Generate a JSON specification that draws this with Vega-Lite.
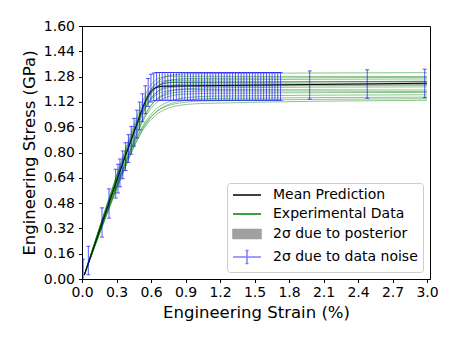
{
  "$schema": "https://vega.github.io/schema/vega-lite/v6.json",
  "width": 348,
  "height": 253,
  "autosize": {"type": "none"},
  "padding": {"left": 82, "top": 26, "right": 27, "bottom": 64},
  "background": "white",
  "config": {
    "font": "DejaVu Sans",
    "view": {"stroke": "black", "strokeWidth": 1},
    "axis": {
      "domainColor": "black", "tickColor": "black", "labelColor": "black", "titleColor": "black",
      "grid": false, "labelFontSize": 14, "titleFontSize": 16.5, "titleFontWeight": "normal",
      "tickSize": 3.5, "labelFont": "DejaVu Sans", "titleFont": "DejaVu Sans", "domainWidth": 1, "tickWidth": 1,
      "labelOverlap": false
    }
  },
  "datasets": {
    "curves": [
      {"c":"C1","x":0.02,"y":0.025},{"c":"C1","x":0.494,"y":1.029},{"c":"C1","x":0.555,"y":1.135},{"c":"C1","x":0.615,"y":1.213},{"c":"C1","x":0.676,"y":1.258},{"c":"C1","x":0.736,"y":1.281},{"c":"C1","x":0.797,"y":1.291},{"c":"C1","x":0.918,"y":1.298},{"c":"C1","x":3.0,"y":1.305},
      {"c":"C2","x":0.02,"y":0.025},{"c":"C2","x":0.478,"y":1.025},{"c":"C2","x":0.537,"y":1.14},{"c":"C2","x":0.595,"y":1.223},{"c":"C2","x":0.653,"y":1.264},{"c":"C2","x":0.712,"y":1.278},{"c":"C2","x":0.77,"y":1.282},{"c":"C2","x":3.0,"y":1.28},
      {"c":"C3","x":0.02,"y":0.025},{"c":"C3","x":0.494,"y":1.006},{"c":"C3","x":0.555,"y":1.109},{"c":"C3","x":0.615,"y":1.185},{"c":"C3","x":0.676,"y":1.229},{"c":"C3","x":0.736,"y":1.251},{"c":"C3","x":0.797,"y":1.261},{"c":"C3","x":0.918,"y":1.268},{"c":"C3","x":3.0,"y":1.275},
      {"c":"C4","x":0.02,"y":0.025},{"c":"C4","x":0.48,"y":1.005},{"c":"C4","x":0.538,"y":1.117},{"c":"C4","x":0.597,"y":1.199},{"c":"C4","x":0.655,"y":1.239},{"c":"C4","x":0.714,"y":1.253},{"c":"C4","x":0.773,"y":1.257},{"c":"C4","x":3.0,"y":1.265},
      {"c":"C6","x":0.02,"y":0.025},{"c":"C6","x":0.492,"y":0.978},{"c":"C6","x":0.552,"y":1.079},{"c":"C6","x":0.613,"y":1.152},{"c":"C6","x":0.673,"y":1.195},{"c":"C6","x":0.733,"y":1.217},{"c":"C6","x":0.793,"y":1.226},{"c":"C6","x":0.914,"y":1.233},{"c":"C6","x":3.0,"y":1.23},
      {"c":"C7","x":0.02,"y":0.025},{"c":"C7","x":0.475,"y":0.966},{"c":"C7","x":0.533,"y":1.066},{"c":"C7","x":0.591,"y":1.138},{"c":"C7","x":0.65,"y":1.181},{"c":"C7","x":0.708,"y":1.202},{"c":"C7","x":0.766,"y":1.211},{"c":"C7","x":0.882,"y":1.218},{"c":"C7","x":3.0,"y":1.225},
      {"c":"C8","x":0.02,"y":0.025},{"c":"C8","x":0.434,"y":0.841},{"c":"C8","x":0.494,"y":0.949},{"c":"C8","x":0.555,"y":1.041},{"c":"C8","x":0.615,"y":1.11},{"c":"C8","x":0.676,"y":1.153},{"c":"C8","x":0.736,"y":1.179},{"c":"C8","x":0.797,"y":1.193},{"c":"C8","x":0.918,"y":1.204},{"c":"C8","x":1.22,"y":1.21},{"c":"C8","x":3.0,"y":1.215},
      {"c":"C9","x":0.02,"y":0.025},{"c":"C9","x":0.468,"y":0.95},{"c":"C9","x":0.525,"y":1.048},{"c":"C9","x":0.582,"y":1.12},{"c":"C9","x":0.639,"y":1.161},{"c":"C9","x":0.696,"y":1.182},{"c":"C9","x":0.753,"y":1.192},{"c":"C9","x":0.868,"y":1.198},{"c":"C9","x":3.0,"y":1.195},
      {"c":"C10","x":0.02,"y":0.025},{"c":"C10","x":0.417,"y":0.827},{"c":"C10","x":0.475,"y":0.934},{"c":"C10","x":0.533,"y":1.024},{"c":"C10","x":0.591,"y":1.091},{"c":"C10","x":0.649,"y":1.134},{"c":"C10","x":0.707,"y":1.159},{"c":"C10","x":0.765,"y":1.173},{"c":"C10","x":0.881,"y":1.184},{"c":"C10","x":1.171,"y":1.19},{"c":"C10","x":3.0,"y":1.185},
      {"c":"C11","x":0.02,"y":0.025},{"c":"C11","x":0.421,"y":0.817},{"c":"C11","x":0.48,"y":0.922},{"c":"C11","x":0.539,"y":1.011},{"c":"C11","x":0.598,"y":1.077},{"c":"C11","x":0.656,"y":1.12},{"c":"C11","x":0.715,"y":1.144},{"c":"C11","x":0.774,"y":1.158},{"c":"C11","x":0.891,"y":1.169},{"c":"C11","x":1.185,"y":1.175},{"c":"C11","x":3.0,"y":1.18},
      {"c":"C12","x":0.02,"y":0.025},{"c":"C12","x":0.358,"y":0.691},{"c":"C12","x":0.416,"y":0.797},{"c":"C12","x":0.474,"y":0.893},{"c":"C12","x":0.532,"y":0.972},{"c":"C12","x":0.59,"y":1.033},{"c":"C12","x":0.648,"y":1.077},{"c":"C12","x":0.706,"y":1.105},{"c":"C12","x":0.764,"y":1.124},{"c":"C12","x":0.88,"y":1.144},{"c":"C12","x":0.996,"y":1.152},{"c":"C12","x":1.17,"y":1.157},{"c":"C12","x":3.0,"y":1.165},
      {"c":"C13","x":0.02,"y":0.025},{"c":"C13","x":0.362,"y":0.682},{"c":"C13","x":0.421,"y":0.787},{"c":"C13","x":0.48,"y":0.881},{"c":"C13","x":0.538,"y":0.96},{"c":"C13","x":0.597,"y":1.02},{"c":"C13","x":0.656,"y":1.063},{"c":"C13","x":0.714,"y":1.091},{"c":"C13","x":0.773,"y":1.11},{"c":"C13","x":0.891,"y":1.129},{"c":"C13","x":1.008,"y":1.138},{"c":"C13","x":1.184,"y":1.142},{"c":"C13","x":3.0,"y":1.15},
      {"c":"C14","x":0.02,"y":0.025},{"c":"C14","x":0.349,"y":0.673},{"c":"C14","x":0.406,"y":0.777},{"c":"C14","x":0.462,"y":0.87},{"c":"C14","x":0.519,"y":0.947},{"c":"C14","x":0.575,"y":1.007},{"c":"C14","x":0.632,"y":1.049},{"c":"C14","x":0.688,"y":1.077},{"c":"C14","x":0.745,"y":1.095},{"c":"C14","x":0.858,"y":1.114},{"c":"C14","x":0.971,"y":1.123},{"c":"C14","x":1.14,"y":1.127},{"c":"C14","x":3.0,"y":1.14},
      {"c":"C15","x":0.02,"y":0.025},{"c":"C15","x":0.353,"y":0.664},{"c":"C15","x":0.41,"y":0.766},{"c":"C15","x":0.467,"y":0.858},{"c":"C15","x":0.524,"y":0.935},{"c":"C15","x":0.582,"y":0.993},{"c":"C15","x":0.639,"y":1.035},{"c":"C15","x":0.696,"y":1.063},{"c":"C15","x":0.753,"y":1.081},{"c":"C15","x":0.867,"y":1.1},{"c":"C15","x":0.982,"y":1.108},{"c":"C15","x":1.153,"y":1.112},{"c":"C15","x":3.0,"y":1.13}
    ],
    "main": [
      {"x":0.02,"y":0.025},{"x":0.485,"y":0.993},{"x":0.544,"y":1.104},{"x":0.603,"y":1.185},{"x":0.663,"y":1.224},{"x":0.722,"y":1.238},{"x":0.781,"y":1.243},{"x":3.0,"y":1.25}
    ],
    "mean": [
      {"x":0.02,"y":0.025,"lo":0.017,"hi":0.033},
      {"x":0.475,"y":0.976,"lo":0.968,"hi":0.984},
      {"x":0.533,"y":1.092,"lo":1.084,"hi":1.1},
      {"x":0.591,"y":1.178,"lo":1.17,"hi":1.186},
      {"x":0.65,"y":1.212,"lo":1.204,"hi":1.22},
      {"x":0.708,"y":1.219,"lo":1.211,"hi":1.227},
      {"x":1.0,"y":1.222,"lo":1.214,"hi":1.23},
      {"x":2.0,"y":1.23,"lo":1.222,"hi":1.238},
      {"x":3.0,"y":1.238,"lo":1.23,"hi":1.246}
    ],
    "noise": [
      {"x":0.01,"lo":-0.05,"hi":0.125},
      {"x":0.055,"lo":0.027,"hi":0.207},
      {"x":0.174,"lo":0.265,"hi":0.45},
      {"x":0.235,"lo":0.385,"hi":0.57},
      {"x":0.293,"lo":0.512,"hi":0.694},
      {"x":0.313,"lo":0.544,"hi":0.726},
      {"x":0.33,"lo":0.583,"hi":0.759},
      {"x":0.3545,"lo":0.634,"hi":0.81},
      {"x":0.379,"lo":0.686,"hi":0.862},
      {"x":0.4035,"lo":0.737,"hi":0.913},
      {"x":0.428,"lo":0.789,"hi":0.965},
      {"x":0.4525,"lo":0.84,"hi":1.016},
      {"x":0.477,"lo":0.892,"hi":1.068},
      {"x":0.5015,"lo":0.943,"hi":1.119},
      {"x":0.526,"lo":0.995,"hi":1.171},
      {"x":0.5505,"lo":1.046,"hi":1.222},
      {"x":0.575,"lo":1.092,"hi":1.268},
      {"x":0.5995,"lo":1.119,"hi":1.295},
      {"x":0.624,"lo":1.127,"hi":1.303},
      {"x":0.6485,"lo":1.13,"hi":1.306},{"x":0.673,"lo":1.13,"hi":1.306},{"x":0.6975,"lo":1.13,"hi":1.306},{"x":0.722,"lo":1.13,"hi":1.306},{"x":0.7465,"lo":1.13,"hi":1.306},
      {"x":0.771,"lo":1.13,"hi":1.306},{"x":0.7955,"lo":1.13,"hi":1.306},{"x":0.82,"lo":1.13,"hi":1.306},{"x":0.8445,"lo":1.13,"hi":1.306},{"x":0.869,"lo":1.13,"hi":1.306},
      {"x":0.8935,"lo":1.13,"hi":1.306},{"x":0.918,"lo":1.13,"hi":1.306},{"x":0.9425,"lo":1.13,"hi":1.306},{"x":0.967,"lo":1.13,"hi":1.306},{"x":0.9915,"lo":1.13,"hi":1.306},
      {"x":1.016,"lo":1.13,"hi":1.306},{"x":1.0405,"lo":1.13,"hi":1.306},{"x":1.065,"lo":1.13,"hi":1.306},{"x":1.0895,"lo":1.13,"hi":1.306},{"x":1.114,"lo":1.13,"hi":1.306},
      {"x":1.1385,"lo":1.13,"hi":1.306},{"x":1.163,"lo":1.13,"hi":1.306},{"x":1.1875,"lo":1.13,"hi":1.306},{"x":1.212,"lo":1.13,"hi":1.306},{"x":1.2365,"lo":1.13,"hi":1.306},
      {"x":1.261,"lo":1.13,"hi":1.306},{"x":1.2855,"lo":1.13,"hi":1.306},{"x":1.31,"lo":1.13,"hi":1.306},{"x":1.3345,"lo":1.13,"hi":1.306},{"x":1.359,"lo":1.13,"hi":1.306},
      {"x":1.3835,"lo":1.13,"hi":1.306},{"x":1.408,"lo":1.13,"hi":1.306},{"x":1.4325,"lo":1.13,"hi":1.306},{"x":1.457,"lo":1.13,"hi":1.306},{"x":1.4815,"lo":1.13,"hi":1.306},
      {"x":1.506,"lo":1.13,"hi":1.306},{"x":1.5305,"lo":1.13,"hi":1.306},{"x":1.555,"lo":1.13,"hi":1.306},{"x":1.5795,"lo":1.13,"hi":1.306},{"x":1.604,"lo":1.13,"hi":1.306},
      {"x":1.6285,"lo":1.13,"hi":1.306},{"x":1.653,"lo":1.13,"hi":1.306},{"x":1.6775,"lo":1.13,"hi":1.306},{"x":1.702,"lo":1.13,"hi":1.306},{"x":1.7265,"lo":1.13,"hi":1.306},
      {"x":1.98,"lo":1.138,"hi":1.316},
      {"x":2.48,"lo":1.143,"hi":1.323},
      {"x":2.98,"lo":1.147,"hi":1.327}
    ]
  },
  "encoding": {
    "x": {
      "field": "x", "type": "quantitative",
      "scale": {"domain": [0, 3.026], "nice": false, "zero": false},
      "axis": {"values": [0, 0.3, 0.6, 0.9, 1.2, 1.5, 1.8, 2.1, 2.4, 2.7, 3.0], "format": ".1f", "title": "Engineering Strain (%)", "labelPadding": 3, "titlePadding": 5, "labelFlush": false, "labelOverlap": false}
    }
  },
  "layer": [
    {
      "data": {"name": "curves"},
      "mark": {"type": "line", "interpolate": "monotone", "strokeWidth": 1, "opacity": 0.45, "clip": true},
      "encoding": {
        "y": {
          "field": "y", "type": "quantitative",
          "scale": {"domain": [0, 1.6], "nice": false},
          "axis": {"values": [0, 0.16, 0.32, 0.48, 0.64, 0.8, 0.96, 1.12, 1.28, 1.44, 1.6], "format": ".2f", "title": "Engineering Stress (GPa)", "labelPadding": 4, "titlePadding": 6, "labelFlush": false, "labelOverlap": false}
        },
        "detail": {"field": "c"},
        "color": {
          "datum": "Experimental Data",
          "scale": {"domain": ["Mean Prediction", "Experimental Data", "2σ due to posterior", "2σ due to data noise"], "range": ["black", "green", "#a0a0a0", "blue"]},
          "legend": {
            "title": null, "orient": "bottom-right", "offset": 7,
            "padding": 5, "rowPadding": 5, "symbolSize": 144, "labelOffset": 27,
            "labelFontSize": 14, "labelFont": "DejaVu Sans", "labelColor": "black",
            "fillColor": "white", "strokeColor": "#cccccc", "cornerRadius": 3,
            "symbolStrokeWidth": 1.5,
            "symbolType": {"expr": "datum.value === '2σ due to posterior' ? 'M-1,-0.75H3.667V0.75H-1Z' : datum.value === '2σ due to data noise' ? 'M-1,0H3.667M1.333,-1.1V1.1M1.083,-1.1H1.583M1.083,1.1H1.583' : 'M-1,0H3.667'"},
            "symbolFillColor": {"expr": "datum.value === '2σ due to posterior' ? '#a0a0a0' : 'transparent'"},
            "symbolOpacity": {"expr": "datum.value === '2σ due to data noise' ? 0.5 : 1"}
          }
        }
      }
    },
    {
      "data": {"name": "main"},
      "mark": {"type": "line", "interpolate": "monotone", "strokeWidth": 1.2, "opacity": 0.75, "clip": true},
      "encoding": {
        "y": {"field": "y", "type": "quantitative",
          "axis": {"values": [0, 0.16, 0.32, 0.48, 0.64, 0.8, 0.96, 1.12, 1.28, 1.44, 1.6], "format": ".2f", "title": "Engineering Stress (GPa)", "labelPadding": 4, "titlePadding": 6, "labelFlush": false, "labelOverlap": false}},
        "color": {"datum": "Experimental Data", "legend": null}
      }
    },
    {
      "data": {"name": "mean"},
      "mark": {"type": "area", "interpolate": "monotone", "opacity": 0.6, "clip": true},
      "encoding": {
        "y": {"field": "lo", "type": "quantitative",
          "axis": {"values": [0, 0.16, 0.32, 0.48, 0.64, 0.8, 0.96, 1.12, 1.28, 1.44, 1.6], "format": ".2f", "title": "Engineering Stress (GPa)", "labelPadding": 4, "titlePadding": 6, "labelFlush": false, "labelOverlap": false}},
        "y2": {"field": "hi"},
        "color": {"datum": "2σ due to posterior", "legend": null}
      }
    },
    {
      "data": {"name": "mean"},
      "mark": {"type": "line", "interpolate": "monotone", "strokeWidth": 1, "clip": true},
      "encoding": {
        "y": {"field": "y", "type": "quantitative",
          "axis": {"values": [0, 0.16, 0.32, 0.48, 0.64, 0.8, 0.96, 1.12, 1.28, 1.44, 1.6], "format": ".2f", "title": "Engineering Stress (GPa)", "labelPadding": 4, "titlePadding": 6, "labelFlush": false, "labelOverlap": false}},
        "color": {"datum": "Mean Prediction", "legend": null}
      }
    },
    {
      "data": {"name": "noise"},
      "mark": {"type": "rule", "strokeWidth": 1, "opacity": 0.65, "clip": true},
      "encoding": {
        "y": {"field": "lo", "type": "quantitative",
          "axis": {"values": [0, 0.16, 0.32, 0.48, 0.64, 0.8, 0.96, 1.12, 1.28, 1.44, 1.6], "format": ".2f", "title": "Engineering Stress (GPa)", "labelPadding": 4, "titlePadding": 6, "labelFlush": false, "labelOverlap": false}},
        "y2": {"field": "hi"},
        "color": {"datum": "2σ due to data noise", "legend": null}
      }
    },
    {
      "data": {"name": "noise"},
      "mark": {"type": "tick", "orient": "horizontal", "size": 4, "thickness": 1, "opacity": 0.65, "clip": true},
      "encoding": {
        "y": {"field": "lo", "type": "quantitative",
          "axis": {"values": [0, 0.16, 0.32, 0.48, 0.64, 0.8, 0.96, 1.12, 1.28, 1.44, 1.6], "format": ".2f", "title": "Engineering Stress (GPa)", "labelPadding": 4, "titlePadding": 6, "labelFlush": false, "labelOverlap": false}},
        "color": {"datum": "2σ due to data noise", "legend": null}
      }
    },
    {
      "data": {"name": "noise"},
      "mark": {"type": "tick", "orient": "horizontal", "size": 4, "thickness": 1, "opacity": 0.65, "clip": true},
      "encoding": {
        "y": {"field": "hi", "type": "quantitative",
          "axis": {"values": [0, 0.16, 0.32, 0.48, 0.64, 0.8, 0.96, 1.12, 1.28, 1.44, 1.6], "format": ".2f", "title": "Engineering Stress (GPa)", "labelPadding": 4, "titlePadding": 6, "labelFlush": false, "labelOverlap": false}},
        "color": {"datum": "2σ due to data noise", "legend": null}
      }
    }
  ]
}
